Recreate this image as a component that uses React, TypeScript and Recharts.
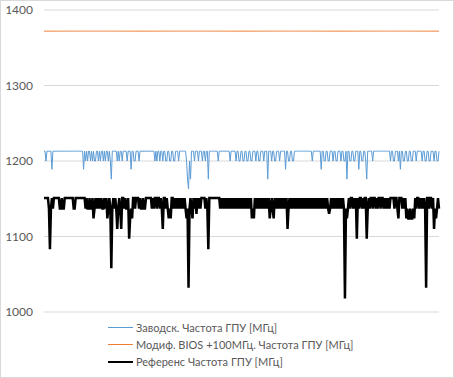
import React from 'react';
import { LineChart, Line, XAxis, YAxis, CartesianGrid, Legend } from 'recharts';

// Частота ГПУ, МГц — по отсчётам (400 отсчётов)
const zavodsk: number[] = [
  1213, 1213, 1200, 1213, 1213, 1213, 1213, 1213, 1189, 1213, 1213, 1213, 1213, 1213, 1213, 1213, 1213, 1213, 1213, 1213,
  1213, 1213, 1213, 1213, 1213, 1213, 1213, 1213, 1213, 1213, 1213, 1213, 1213, 1213, 1213, 1213, 1213, 1213, 1213, 1213,
  1189, 1213, 1200, 1213, 1200, 1213, 1213, 1200, 1213, 1200, 1213, 1200, 1200, 1213, 1213, 1200, 1213, 1200, 1213, 1213,
  1200, 1213, 1200, 1213, 1213, 1200, 1213, 1200, 1176, 1213, 1213, 1213, 1213, 1213, 1200, 1213, 1200, 1213, 1213, 1200,
  1213, 1213, 1213, 1213, 1200, 1213, 1213, 1213, 1189, 1213, 1213, 1200, 1200, 1213, 1213, 1213, 1200, 1213, 1213, 1213,
  1213, 1213, 1213, 1213, 1213, 1213, 1213, 1213, 1213, 1213, 1213, 1213, 1200, 1213, 1200, 1213, 1213, 1200, 1213, 1213,
  1200, 1213, 1213, 1200, 1200, 1213, 1213, 1200, 1200, 1213, 1213, 1200, 1200, 1213, 1213, 1213, 1200, 1213, 1213, 1213,
  1213, 1213, 1213, 1213, 1200, 1176, 1163, 1200, 1176, 1213, 1213, 1213, 1200, 1213, 1213, 1213, 1200, 1213, 1213, 1213,
  1200, 1213, 1213, 1200, 1213, 1213, 1176, 1213, 1213, 1213, 1213, 1213, 1213, 1213, 1213, 1213, 1200, 1213, 1213, 1213,
  1213, 1213, 1213, 1213, 1213, 1213, 1213, 1213, 1200, 1213, 1213, 1213, 1213, 1213, 1200, 1213, 1213, 1200, 1200, 1213,
  1213, 1200, 1200, 1213, 1213, 1200, 1200, 1213, 1213, 1200, 1200, 1213, 1213, 1213, 1200, 1213, 1213, 1200, 1200, 1213,
  1213, 1213, 1200, 1213, 1213, 1213, 1176, 1213, 1213, 1213, 1200, 1213, 1213, 1200, 1200, 1213, 1213, 1213, 1200, 1213,
  1213, 1213, 1213, 1213, 1189, 1213, 1213, 1200, 1200, 1213, 1213, 1200, 1200, 1213, 1213, 1213, 1213, 1213, 1213, 1213,
  1213, 1213, 1213, 1213, 1213, 1213, 1213, 1213, 1213, 1213, 1213, 1200, 1213, 1213, 1213, 1213, 1213, 1213, 1213, 1213,
  1189, 1213, 1213, 1200, 1200, 1213, 1213, 1200, 1200, 1213, 1213, 1213, 1200, 1213, 1213, 1200, 1200, 1213, 1213, 1213,
  1200, 1213, 1213, 1200, 1200, 1213, 1176, 1213, 1213, 1200, 1200, 1213, 1213, 1200, 1200, 1213, 1213, 1213, 1189, 1213,
  1213, 1200, 1200, 1213, 1213, 1200, 1176, 1213, 1213, 1213, 1213, 1213, 1200, 1213, 1213, 1213, 1213, 1213, 1213, 1213,
  1213, 1213, 1213, 1213, 1213, 1213, 1213, 1213, 1213, 1213, 1200, 1213, 1213, 1200, 1200, 1213, 1213, 1213, 1200, 1213,
  1189, 1213, 1213, 1200, 1200, 1213, 1213, 1200, 1200, 1213, 1213, 1200, 1200, 1213, 1213, 1213, 1200, 1213, 1213, 1213,
  1213, 1213, 1200, 1213, 1213, 1200, 1200, 1213, 1213, 1200, 1200, 1213, 1213, 1213, 1200, 1213, 1213, 1200, 1200, 1213,
];

const modif: number[] = [
  1372, 1372, 1372, 1372, 1372, 1372, 1372, 1372, 1372, 1372, 1372, 1372, 1372, 1372, 1372, 1372, 1372, 1372, 1372, 1372,
  1372, 1372, 1372, 1372, 1372, 1372, 1372, 1372, 1372, 1372, 1372, 1372, 1372, 1372, 1372, 1372, 1372, 1372, 1372, 1372,
  1372, 1372, 1372, 1372, 1372, 1372, 1372, 1372, 1372, 1372, 1372, 1372, 1372, 1372, 1372, 1372, 1372, 1372, 1372, 1372,
  1372, 1372, 1372, 1372, 1372, 1372, 1372, 1372, 1372, 1372, 1372, 1372, 1372, 1372, 1372, 1372, 1372, 1372, 1372, 1372,
  1372, 1372, 1372, 1372, 1372, 1372, 1372, 1372, 1372, 1372, 1372, 1372, 1372, 1372, 1372, 1372, 1372, 1372, 1372, 1372,
  1372, 1372, 1372, 1372, 1372, 1372, 1372, 1372, 1372, 1372, 1372, 1372, 1372, 1372, 1372, 1372, 1372, 1372, 1372, 1372,
  1372, 1372, 1372, 1372, 1372, 1372, 1372, 1372, 1372, 1372, 1372, 1372, 1372, 1372, 1372, 1372, 1372, 1372, 1372, 1372,
  1372, 1372, 1372, 1372, 1372, 1372, 1372, 1372, 1372, 1372, 1372, 1372, 1372, 1372, 1372, 1372, 1372, 1372, 1372, 1372,
  1372, 1372, 1372, 1372, 1372, 1372, 1372, 1372, 1372, 1372, 1372, 1372, 1372, 1372, 1372, 1372, 1372, 1372, 1372, 1372,
  1372, 1372, 1372, 1372, 1372, 1372, 1372, 1372, 1372, 1372, 1372, 1372, 1372, 1372, 1372, 1372, 1372, 1372, 1372, 1372,
  1372, 1372, 1372, 1372, 1372, 1372, 1372, 1372, 1372, 1372, 1372, 1372, 1372, 1372, 1372, 1372, 1372, 1372, 1372, 1372,
  1372, 1372, 1372, 1372, 1372, 1372, 1372, 1372, 1372, 1372, 1372, 1372, 1372, 1372, 1372, 1372, 1372, 1372, 1372, 1372,
  1372, 1372, 1372, 1372, 1372, 1372, 1372, 1372, 1372, 1372, 1372, 1372, 1372, 1372, 1372, 1372, 1372, 1372, 1372, 1372,
  1372, 1372, 1372, 1372, 1372, 1372, 1372, 1372, 1372, 1372, 1372, 1372, 1372, 1372, 1372, 1372, 1372, 1372, 1372, 1372,
  1372, 1372, 1372, 1372, 1372, 1372, 1372, 1372, 1372, 1372, 1372, 1372, 1372, 1372, 1372, 1372, 1372, 1372, 1372, 1372,
  1372, 1372, 1372, 1372, 1372, 1372, 1372, 1372, 1372, 1372, 1372, 1372, 1372, 1372, 1372, 1372, 1372, 1372, 1372, 1372,
  1372, 1372, 1372, 1372, 1372, 1372, 1372, 1372, 1372, 1372, 1372, 1372, 1372, 1372, 1372, 1372, 1372, 1372, 1372, 1372,
  1372, 1372, 1372, 1372, 1372, 1372, 1372, 1372, 1372, 1372, 1372, 1372, 1372, 1372, 1372, 1372, 1372, 1372, 1372, 1372,
  1372, 1372, 1372, 1372, 1372, 1372, 1372, 1372, 1372, 1372, 1372, 1372, 1372, 1372, 1372, 1372, 1372, 1372, 1372, 1372,
  1372, 1372, 1372, 1372, 1372, 1372, 1372, 1372, 1372, 1372, 1372, 1372, 1372, 1372, 1372, 1372, 1372, 1372, 1372, 1372,
];

const referens: number[] = [
  1151, 1151, 1151, 1151, 1151, 1137, 1083, 1137, 1151, 1137, 1151, 1151, 1151, 1151, 1151, 1151, 1137, 1137, 1151, 1137,
  1137, 1151, 1151, 1151, 1151, 1151, 1151, 1151, 1151, 1151, 1137, 1137, 1151, 1151, 1151, 1151, 1151, 1151, 1151, 1151,
  1151, 1151, 1137, 1151, 1137, 1137, 1151, 1137, 1137, 1151, 1124, 1137, 1151, 1137, 1151, 1137, 1151, 1137, 1151, 1137,
  1137, 1151, 1137, 1151, 1124, 1137, 1151, 1137, 1058, 1137, 1151, 1137, 1151, 1137, 1110, 1137, 1151, 1137, 1110, 1151,
  1151, 1137, 1151, 1137, 1137, 1151, 1097, 1124, 1137, 1124, 1151, 1151, 1137, 1151, 1151, 1151, 1137, 1151, 1137, 1137,
  1151, 1137, 1137, 1151, 1151, 1151, 1151, 1151, 1151, 1137, 1151, 1137, 1151, 1151, 1137, 1151, 1151, 1137, 1151, 1137,
  1110, 1151, 1151, 1137, 1151, 1137, 1124, 1137, 1124, 1151, 1151, 1137, 1151, 1137, 1151, 1137, 1151, 1137, 1151, 1137,
  1151, 1137, 1151, 1137, 1124, 1137, 1032, 1137, 1151, 1137, 1124, 1151, 1137, 1151, 1130, 1151, 1137, 1151, 1137, 1151,
  1151, 1151, 1151, 1137, 1151, 1137, 1083, 1151, 1151, 1151, 1151, 1151, 1151, 1151, 1151, 1151, 1151, 1151, 1137, 1151,
  1137, 1151, 1137, 1151, 1137, 1151, 1137, 1151, 1137, 1151, 1137, 1151, 1137, 1151, 1137, 1151, 1137, 1151, 1137, 1151,
  1137, 1151, 1137, 1151, 1137, 1151, 1137, 1151, 1137, 1151, 1124, 1137, 1124, 1151, 1137, 1151, 1137, 1151, 1137, 1151,
  1137, 1151, 1137, 1151, 1137, 1151, 1137, 1151, 1124, 1137, 1151, 1137, 1124, 1151, 1137, 1151, 1137, 1151, 1137, 1151,
  1137, 1151, 1137, 1151, 1137, 1151, 1110, 1137, 1151, 1137, 1151, 1137, 1151, 1137, 1151, 1137, 1151, 1137, 1151, 1137,
  1151, 1137, 1151, 1137, 1151, 1137, 1151, 1137, 1151, 1137, 1151, 1137, 1151, 1137, 1151, 1137, 1151, 1137, 1151, 1137,
  1151, 1137, 1151, 1137, 1151, 1137, 1151, 1137, 1130, 1137, 1151, 1137, 1151, 1137, 1151, 1137, 1151, 1137, 1151, 1137,
  1151, 1137, 1151, 1137, 1018, 1137, 1124, 1137, 1151, 1137, 1151, 1151, 1137, 1151, 1137, 1151, 1097, 1151, 1137, 1151,
  1151, 1137, 1151, 1137, 1151, 1151, 1097, 1137, 1151, 1137, 1151, 1151, 1137, 1151, 1151, 1137, 1151, 1137, 1151, 1151,
  1137, 1151, 1151, 1137, 1151, 1137, 1151, 1137, 1151, 1137, 1151, 1151, 1151, 1151, 1137, 1151, 1151, 1137, 1124, 1151,
  1151, 1151, 1137, 1151, 1137, 1151, 1124, 1137, 1124, 1124, 1137, 1124, 1124, 1137, 1124, 1151, 1137, 1151, 1151, 1137,
  1151, 1137, 1151, 1137, 1151, 1137, 1032, 1151, 1151, 1137, 1151, 1151, 1137, 1151, 1110, 1137, 1124, 1137, 1151, 1137,
];

const yTicks = [1000, 1100, 1200, 1300, 1400];

const seriesNames = {
  zavodsk: 'Заводск. Частота ГПУ [МГц]',
  modif: 'Модиф. BIOS +100МГц. Частота ГПУ [МГц]',
  referens: 'Референс Частота ГПУ [МГц]',
};

const data = referens.map((v, i) => ({
  i,
  zavodsk: zavodsk[i],
  modif: modif[i],
  referens: v,
}));

const FONT = 'Lato, "Liberation Sans", sans-serif';
const TEXT = '#595959';

const legendItems = [
  { key: 'zavodsk', color: '#5B9BD5', width: 1 },
  { key: 'modif', color: '#ED7D31', width: 1 },
  { key: 'referens', color: '#000000', width: 2 },
];

const renderLegend = () => (
  <div style={{ fontFamily: FONT, fontSize: 11, color: TEXT }}>
    {legendItems.map((it) => (
      <div key={it.key} style={{ display: 'flex', alignItems: 'center', height: 17 }}>
        <div style={{ width: 25, height: it.width, background: it.color, marginRight: 3 }} />
        <span>{seriesNames[it.key as keyof typeof seriesNames]}</span>
      </div>
    ))}
  </div>
);

const App: React.FC = () => {
  return (
    <div style={{ position: 'absolute', left: 0, top: 0, width: 452, height: 376, border: '1px solid #d9d9d9', background: '#fff' }}>
      <LineChart width={452} height={376} data={data} margin={{ top: 9, right: 14, bottom: 65, left: 0 }}>
        <CartesianGrid vertical={false} stroke="#d9d9d9" />
        <XAxis dataKey="i" hide />
        <YAxis
          width={43}
          domain={[1000, 1400]}
          ticks={yTicks}
          axisLine={false}
          tickLine={false}
          tickMargin={5}
          tick={{ fill: TEXT, fontSize: 12, fontFamily: FONT }}
        />
        <Line type="linear" dataKey="zavodsk" name={seriesNames.zavodsk} stroke="#5B9BD5" strokeWidth={1} dot={false} isAnimationActive={false} />
        <Line type="linear" dataKey="modif" name={seriesNames.modif} stroke="#ED7D31" strokeWidth={1} dot={false} isAnimationActive={false} />
        <Line type="linear" dataKey="referens" name={seriesNames.referens} stroke="#000000" strokeWidth={2.5} dot={false} isAnimationActive={false} />
        <Legend
          layout="vertical"
          align="center"
          verticalAlign="middle"
          content={renderLegend}
          wrapperStyle={{ position: 'absolute', top: 318, left: 107, width: 300 }}
        />
      </LineChart>
    </div>
  );
};

export default App;
